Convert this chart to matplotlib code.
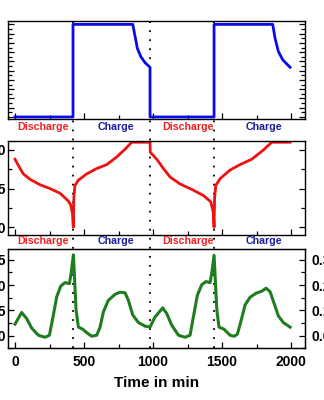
import matplotlib
matplotlib.use("Agg")
import matplotlib.pyplot as plt
from matplotlib.ticker import MultipleLocator, FormatStrFormatter
from matplotlib.lines import Line2D
from matplotlib.transforms import blended_transform_factory

plt.rcParams['font.family'] = ['Liberation Sans', 'DejaVu Sans']
plt.rcParams['font.weight'] = 'bold'

# oberes Feld: Strom (Lade-/Entladephasen)
t_current = [0, 420, 420, 853, 870, 886, 911, 942, 978, 978,
             1442, 1442, 1867, 1884, 1908, 1940, 1993]
current = [-0.5, -0.5, 4.5, 4.5, 3.84, 3.21, 2.76, 2.43, 2.18, -0.5,
           -0.5, 4.5, 4.5, 3.75, 3.03, 2.58, 2.18]

# mittleres Feld: Spannung
t_voltage = [0, 24, 60, 109, 181, 254, 326, 386, 403, 416, 422, 426, 434, 459,
             519, 592, 664, 737, 797, 845, 978, 980, 1027, 1075, 1123, 1196,
             1292, 1365, 1418, 1436, 1442, 1446, 1454, 1486, 1558, 1630, 1715,
             1800, 1860, 1993]
voltage = [3.88, 3.80, 3.69, 3.62, 3.55, 3.50, 3.44, 3.34, 3.29, 3.18, 3.0, 3.38, 3.54, 3.61,
           3.69, 3.76, 3.81, 3.91, 4.01, 4.10, 4.10, 3.97, 3.88, 3.76, 3.65, 3.56,
           3.48, 3.41, 3.33, 3.20, 3.0, 3.38, 3.54, 3.63, 3.74, 3.81, 3.88,
           4.00, 4.10, 4.10]

# unteres Feld
t_lower = [0, 48, 84, 121, 169, 217, 249, 273, 302, 331, 362, 394, 406, 423,
           442, 459, 490, 524, 556, 592, 616, 640, 676, 725, 761, 797, 821, 853,
           894, 942, 978, 1014, 1070, 1099, 1135, 1184, 1232, 1268, 1292, 1321,
           1353, 1384, 1413, 1425, 1442, 1462, 1478, 1514, 1558, 1587, 1611,
           1636, 1667, 1703, 1746, 1788, 1819, 1848, 1877, 1908, 1944, 1993]
lower = [0.23, 0.46, 0.34, 0.15, 0.01, -0.03, 0.01, 0.34, 0.77, 0.98, 1.05, 1.03, 1.23, 1.60,
         0.51, 0.17, 0.13, 0.05, -0.01, 0.01, 0.17, 0.47, 0.70, 0.82, 0.86, 0.85, 0.70, 0.41,
         0.26, 0.19, 0.17, 0.37, 0.55, 0.44, 0.21, 0.01, -0.03, 0.01, 0.37, 0.80,
         1.01, 1.07, 1.05, 1.23, 1.59, 0.51, 0.17, 0.13, 0.01, -0.01, 0.03,
         0.28, 0.61, 0.76, 0.84, 0.88, 0.94, 0.87, 0.64, 0.39, 0.26, 0.17]

switch_times = [420, 978, 1442]
discharge_x = [200, 1254]
charge_x = [730, 1800]

fig = plt.figure(figsize=(3.24, 4.0), dpi=100)
ax1 = fig.add_axes([0.0247, 0.7025, 0.9167, 0.2458])
ax2 = fig.add_axes([0.0247, 0.4125, 0.9167, 0.2358])
ax3 = fig.add_axes([0.0247, 0.129, 0.9167, 0.248])

ax1.plot(t_current, current, color='#0a0aea', lw=2.0, solid_joinstyle='round')
ax2.plot(t_voltage, voltage, color='#ee1111', lw=2.0, solid_joinstyle='round')
ax3.plot(t_lower, lower, color='#1e7d1e', lw=2.2, solid_joinstyle='round')

ax1.set_ylim(-0.61, 4.70)
ax2.set_ylim(2.90, 4.12)
ax3.set_ylim(-0.25, 1.71)

for ax in (ax1, ax2, ax3):
    ax.set_xlim(-51, 2101)
    ax.patch.set_visible(False)
    ax.xaxis.set_major_locator(MultipleLocator(500))
    ax.xaxis.set_minor_locator(MultipleLocator(250))
    ax.yaxis.set_major_locator(MultipleLocator(0.5))
    ax.yaxis.set_minor_locator(MultipleLocator(0.25))
    ax.yaxis.set_major_formatter(FormatStrFormatter('%.1f'))
    ax.tick_params(which='both', direction='in', top=False, labelsize=10, pad=1.5)
    ax.tick_params(which='major', length=4, width=0.9)
    ax.tick_params(which='minor', length=3, width=0.9)
    for s in ax.spines.values():
        s.set_linewidth(1.0)

ax1.tick_params(which='both', right=True, labelleft=False, labelbottom=False)
ax2.tick_params(which='both', right=True, labelbottom=False)
ax3.tick_params(axis='x', pad=4.5)
ax3.set_xlabel('Time in min', fontsize=11, fontweight='bold', labelpad=5)

# rechte Achse unten
ax3r = ax3.twinx()
ax3r.set_ylim(-0.05, 0.342)
ax3r.yaxis.set_major_locator(MultipleLocator(0.1))
ax3r.yaxis.set_minor_locator(MultipleLocator(0.05))
ax3r.yaxis.set_major_formatter(FormatStrFormatter('%.1f'))
ax3r.tick_params(which='both', direction='in', labelsize=10, pad=5)
ax3r.tick_params(which='major', length=4, width=0.9)
ax3r.tick_params(which='minor', length=3, width=0.9)
ax3r.patch.set_visible(False)

# gepunktete Trennlinien ueber alle Felder
trans = blended_transform_factory(ax3.transData, fig.transFigure)
for x in switch_times:
    fig.add_artist(Line2D([x, x], [0.13, 0.961], transform=trans, color='black',
                          lw=1.3, ls=(0, (1, 4)), zorder=-1))

# Beschriftung der Phasen
for ax, y in ((ax1, -0.086), (ax2, -0.062)):
    tr = ax.get_xaxis_transform()
    for x in discharge_x:
        ax.text(x, y, 'Discharge', transform=tr, color='#ee2222', fontsize=7.7,
                fontweight='bold', ha='center', va='center', clip_on=False)
    for x in charge_x:
        ax.text(x, y, 'Charge', transform=tr, color='#1c1c9c', fontsize=7.7,
                fontweight='bold', ha='center', va='center', clip_on=False)

fig.savefig('out.png', dpi=100)
